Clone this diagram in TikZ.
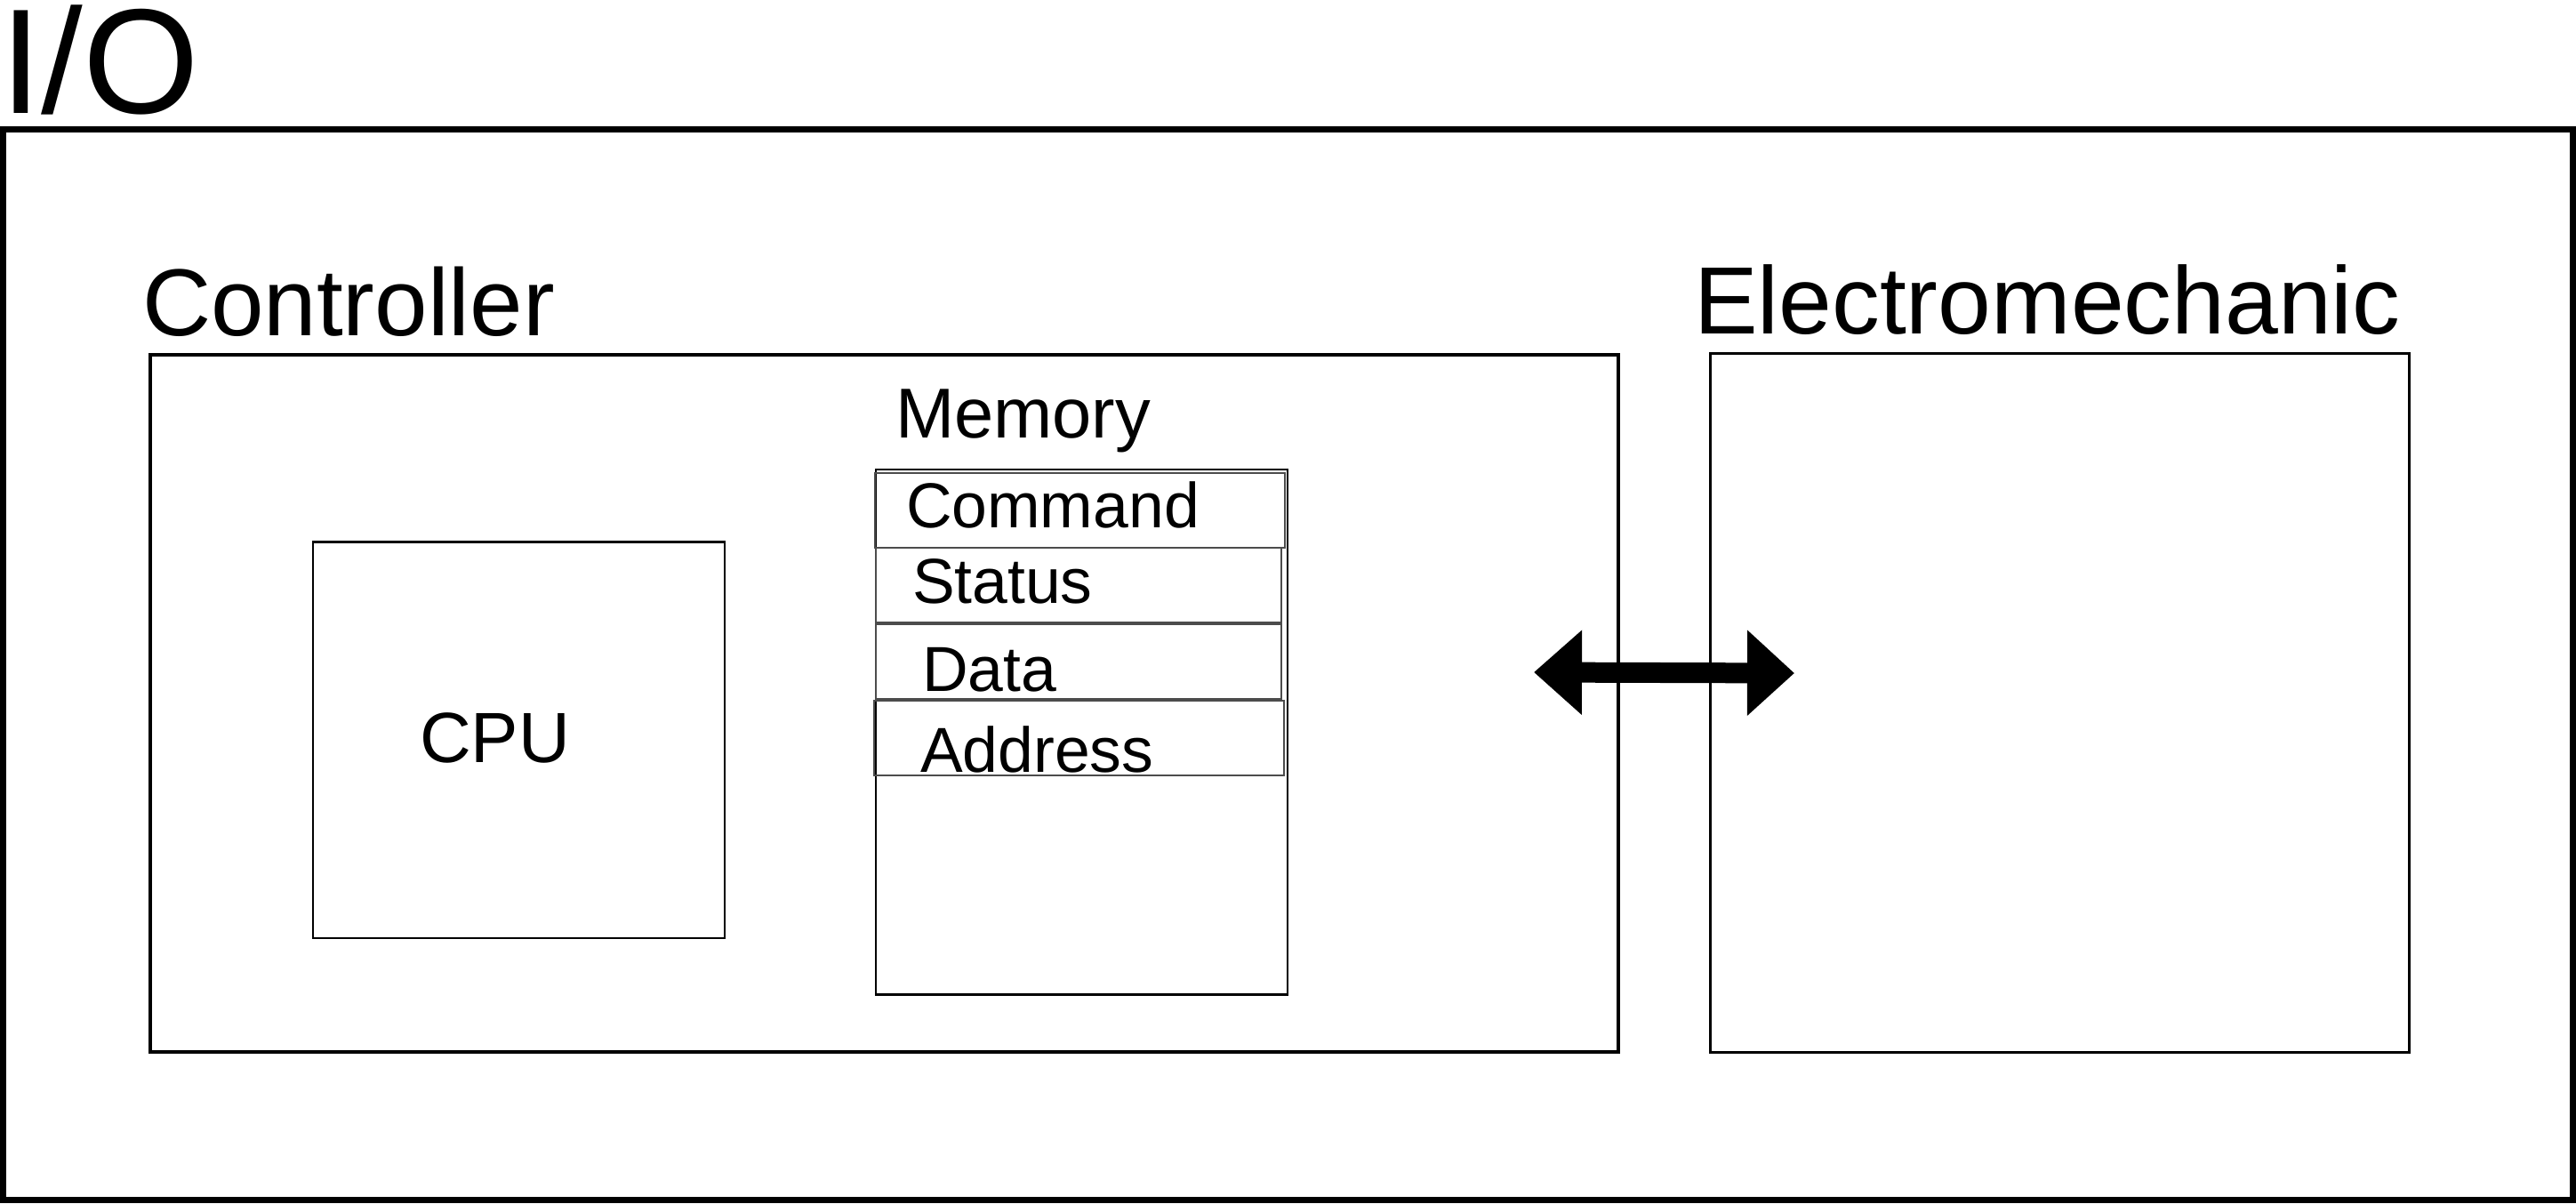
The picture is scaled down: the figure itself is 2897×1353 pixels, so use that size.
\documentclass[tikz,border=0pt]{standalone}
\usepackage{fontspec}
\setmainfont{Liberation Sans}
\usetikzlibrary{arrows.meta}
\newcommand{\fs}[1]{\fontsize{#1}{#1}\selectfont}
\begin{document}
\begin{tikzpicture}[x=1pt,y=-1pt,
  box/.style={draw, rectangle, inner sep=0pt, outer sep=0pt},
  rowbox/.style={draw=black!70, line width=2pt, rectangle, inner sep=0pt, outer sep=0pt},
  lbl/.style={inner sep=0pt, outer sep=0pt, anchor=base west}]
\useasboundingbox (0,0) rectangle (2897,1353);
% outer I/O box
\node[box, line width=7pt, minimum width=2890pt, minimum height=1204pt] (io) at (1448.5,747) {};
\node[lbl, font=\fs{168}] (iolbl) at (0,127) {I/O};
% controller
\node[box, line width=4.5pt, minimum width=1651pt, minimum height=784pt] (ctrl) at (994.5,791) {};
\node[lbl, font=\fs{107}] (ctrllbl) at (160,377) {Controller};
% electromechanic
\node[box, line width=3pt, minimum width=786pt, minimum height=786pt] (em) at (2316.5,790.5) {};
\node[lbl, font=\fs{107.5}] (emlbl) at (1905,375) {Electromechanic};
% CPU
\node[box, line width=2.2pt, minimum width=463pt, minimum height=445.5pt] (cpu) at (583.5,832.25) {};
\node[lbl, font=\fs{80}] (cpulbl) at (472,857) {CPU};
% memory
\node[box, line width=2.5pt, minimum width=463pt, minimum height=590.5pt] (mem) at (1216.5,823.25) {};
\node[lbl, font=\fs{79.5}] (memlbl) at (1007,492) {Memory};
% memory rows
\node[rowbox, minimum width=461pt, minimum height=84pt] (cmd) at (1214.5,574) {};
\node[rowbox, minimum width=456pt, minimum height=84pt] (sts) at (1213,658) {};
\node[rowbox, minimum width=456pt, minimum height=84pt] (dat) at (1213,744) {};
\node[rowbox, minimum width=461pt, minimum height=84pt] (adr) at (1213.5,830) {};
\node[lbl, font=\fs{71.5}] (cmdlbl) at (1019,593) {Command};
\node[lbl, font=\fs{71.5}] (stslbl) at (1026,678) {Status};
\node[lbl, font=\fs{71.5}] (datlbl) at (1037,777) {Data};
\node[lbl, font=\fs{71.5}] (adrlbl) at (1035,868) {Address};
% bidirectional arrow
\coordinate (al) at (1725,756);
\coordinate (ar) at (2018,757);
\draw[line width=23pt, {Triangle[length=54pt,width=92pt]}-{Triangle[length=53pt,width=93pt]}] (al) -- (ar);
\end{tikzpicture}
\end{document}
